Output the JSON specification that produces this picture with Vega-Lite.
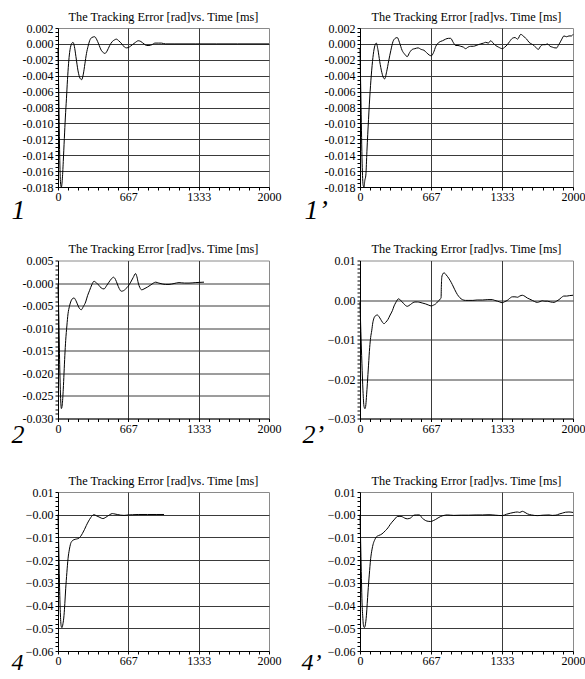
{
  "$schema": "https://vega.github.io/schema/vega-lite/v6.json",
  "padding": {"left": 10, "top": 10, "right": 0, "bottom": 0},
  "background": "white",
  "columns": 2,
  "spacing": {"row": 73.5, "column": 91},
  "bounds": "flush",
  "config": {
    "view": {"stroke": "#8a8a8a", "strokeWidth": 1},
    "font": "Liberation Serif",
    "axis": {"labelFont": "Liberation Serif", "labelFontSize": 12, "labelColor": "#000", "tickColor": "#000", "tickSize": 3, "tickWidth": 1, "domainColor": "#000", "gridColor": "#3a3a3a", "gridWidth": 1, "labelPadding": 2, "titleFont": "Liberation Serif", "titleFontStyle": "italic", "titleFontWeight": "normal", "titleColor": "#000", "labelFlush": false, "labelOverlap": false, "labelBound": false},
    "title": {"font": "Liberation Serif", "fontSize": 12.3, "fontWeight": "normal", "color": "#000", "baseline": "alphabetic", "offset": -1, "anchor": "middle", "frame": "group"},
    "line": {"color": "#000", "strokeWidth": 1, "interpolate": "monotone", "clip": true}
  },
  "datasets": {
    "p1": [{"t":0,"e":-0.0006},{"t":8,"e":-0.007},{"t":16,"e":-0.014},{"t":24,"e":-0.0175},{"t":32,"e":-0.018},{"t":40,"e":-0.0172},{"t":50,"e":-0.0148},{"t":60,"e":-0.0119},{"t":70,"e":-0.0092},{"t":80,"e":-0.0069},{"t":90,"e":-0.0045},{"t":100,"e":-0.0025},{"t":110,"e":-0.0011},{"t":125,"e":-0.0001},{"t":142,"e":0.0002},{"t":155,"e":-0.0003},{"t":170,"e":-0.0016},{"t":190,"e":-0.0034},{"t":208,"e":-0.0043},{"t":224,"e":-0.0045},{"t":240,"e":-0.0038},{"t":255,"e":-0.0025},{"t":270,"e":-0.0012},{"t":285,"e":-0.0003},{"t":300,"e":0.0004},{"t":320,"e":0.0008},{"t":348,"e":0.0009},{"t":365,"e":0.0006},{"t":385,"e":0.0},{"t":410,"e":-0.0008},{"t":430,"e":-0.0011},{"t":445,"e":-0.0012},{"t":465,"e":-0.0009},{"t":490,"e":-0.0002},{"t":515,"e":0.0003},{"t":535,"e":0.0005},{"t":553,"e":0.0006},{"t":575,"e":0.0004},{"t":605,"e":0.0},{"t":630,"e":-0.0004},{"t":651,"e":-0.0005},{"t":675,"e":-0.0004},{"t":705,"e":-0.0001},{"t":735,"e":0.0002},{"t":761,"e":0.0004},{"t":785,"e":0.0003},{"t":815,"e":0.0},{"t":840,"e":-0.0002},{"t":862,"e":-0.0002},{"t":890,"e":-0.0001},{"t":920,"e":0.0001},{"t":950,"e":0.0001},{"t":980,"e":0.0001},{"t":1020,"e":0.0},{"t":1100,"e":0.0},{"t":1300,"e":0.0},{"t":1500,"e":0.0},{"t":1700,"e":0.0},{"t":2000,"e":0.0}],
    "p1b": [{"t":0,"e":-0.0005},{"t":10,"e":-0.008},{"t":20,"e":-0.015},{"t":30,"e":-0.0178},{"t":38,"e":-0.018},{"t":45,"e":-0.0172},{"t":55,"e":-0.0165},{"t":65,"e":-0.0135},{"t":80,"e":-0.0095},{"t":95,"e":-0.006},{"t":110,"e":-0.0033},{"t":125,"e":-0.0013},{"t":140,"e":-0.0002},{"t":153,"e":0.0001},{"t":168,"e":-0.0007},{"t":185,"e":-0.0022},{"t":205,"e":-0.0036},{"t":222,"e":-0.0043},{"t":232,"e":-0.0044},{"t":250,"e":-0.0035},{"t":270,"e":-0.0021},{"t":290,"e":-0.0008},{"t":310,"e":0.0003},{"t":330,"e":0.0007},{"t":350,"e":0.0008},{"t":370,"e":0.0002},{"t":395,"e":-0.0008},{"t":420,"e":-0.0013},{"t":444,"e":-0.0016},{"t":465,"e":-0.0011},{"t":490,"e":-0.0007},{"t":515,"e":-0.0006},{"t":545,"e":-0.0005},{"t":575,"e":-0.0007},{"t":600,"e":-0.0008},{"t":625,"e":-0.0011},{"t":650,"e":-0.0014},{"t":670,"e":-0.0015},{"t":690,"e":-0.0011},{"t":712,"e":-0.0003},{"t":742,"e":0.0002},{"t":775,"e":0.0004},{"t":804,"e":0.0006},{"t":830,"e":0.0007},{"t":851,"e":0.0007},{"t":875,"e":0.0002},{"t":898,"e":-0.0002},{"t":920,"e":-0.0002},{"t":945,"e":-0.0003},{"t":970,"e":-0.0004},{"t":992,"e":-0.0006},{"t":1015,"e":-0.0004},{"t":1039,"e":-0.0003},{"t":1065,"e":-0.0003},{"t":1090,"e":-0.0002},{"t":1110,"e":-0.0001},{"t":1133,"e":0.0},{"t":1160,"e":0.0001},{"t":1180,"e":0.0002},{"t":1205,"e":0.0001},{"t":1227,"e":0.0004},{"t":1250,"e":0.0001},{"t":1274,"e":-0.0002},{"t":1300,"e":-0.0004},{"t":1336,"e":-0.0006},{"t":1360,"e":-0.0004},{"t":1383,"e":-0.0001},{"t":1405,"e":0.0003},{"t":1430,"e":0.0007},{"t":1455,"e":0.0008},{"t":1480,"e":0.0006},{"t":1509,"e":0.0012},{"t":1540,"e":0.0009},{"t":1565,"e":0.0006},{"t":1587,"e":0.0002},{"t":1610,"e":0.0},{"t":1634,"e":-0.0002},{"t":1655,"e":-0.0005},{"t":1674,"e":-0.0007},{"t":1695,"e":-0.0003},{"t":1720,"e":-0.0001},{"t":1740,"e":-0.0001},{"t":1759,"e":0.0},{"t":1785,"e":-0.0003},{"t":1806,"e":-0.0004},{"t":1830,"e":-0.0005},{"t":1847,"e":-0.0005},{"t":1865,"e":-0.0001},{"t":1875,"e":0.0001},{"t":1895,"e":0.0006},{"t":1915,"e":0.001},{"t":1940,"e":0.0009},{"t":1962,"e":0.001},{"t":1985,"e":0.001},{"t":2000,"e":0.0012}],
    "p2": [{"t":0,"e":-0.0003},{"t":8,"e":-0.008},{"t":16,"e":-0.018},{"t":24,"e":-0.025},{"t":32,"e":-0.0278},{"t":40,"e":-0.027},{"t":50,"e":-0.0235},{"t":57,"e":-0.02},{"t":65,"e":-0.016},{"t":73,"e":-0.0127},{"t":84,"e":-0.0095},{"t":95,"e":-0.0068},{"t":108,"e":-0.0052},{"t":120,"e":-0.0042},{"t":135,"e":-0.0035},{"t":152,"e":-0.0033},{"t":168,"e":-0.0038},{"t":183,"e":-0.0046},{"t":200,"e":-0.0055},{"t":221,"e":-0.0059},{"t":240,"e":-0.0052},{"t":262,"e":-0.0042},{"t":280,"e":-0.0028},{"t":300,"e":-0.0016},{"t":320,"e":-0.0004},{"t":341,"e":0.0004},{"t":365,"e":0.0},{"t":389,"e":-0.0005},{"t":410,"e":-0.0011},{"t":436,"e":-0.0013},{"t":460,"e":-0.0006},{"t":483,"e":0.0002},{"t":505,"e":0.0009},{"t":525,"e":0.0013},{"t":545,"e":0.0008},{"t":562,"e":-0.0002},{"t":580,"e":-0.0012},{"t":600,"e":-0.0018},{"t":620,"e":-0.0017},{"t":641,"e":-0.0013},{"t":665,"e":-0.0007},{"t":689,"e":0.0002},{"t":712,"e":0.0012},{"t":736,"e":0.0021},{"t":748,"e":0.0014},{"t":761,"e":0.0},{"t":776,"e":-0.001},{"t":793,"e":-0.0015},{"t":815,"e":-0.0013},{"t":847,"e":-0.0009},{"t":880,"e":-0.0004},{"t":926,"e":0.0002},{"t":955,"e":0.0},{"t":989,"e":-0.0002},{"t":1020,"e":-0.0003},{"t":1052,"e":-0.0003},{"t":1100,"e":-0.0001},{"t":1147,"e":0.0001},{"t":1200,"e":0.0},{"t":1242,"e":0.0},{"t":1300,"e":0.0001},{"t":1384,"e":0.0002}],
    "p2b": [{"t":0,"e":-0.0005},{"t":8,"e":-0.008},{"t":18,"e":-0.016},{"t":28,"e":-0.023},{"t":38,"e":-0.027},{"t":47,"e":-0.0275},{"t":55,"e":-0.0265},{"t":62,"e":-0.024},{"t":69,"e":-0.0212},{"t":80,"e":-0.0165},{"t":91,"e":-0.012},{"t":100,"e":-0.0095},{"t":110,"e":-0.0078},{"t":120,"e":-0.0058},{"t":131,"e":-0.0046},{"t":145,"e":-0.004},{"t":163,"e":-0.0038},{"t":178,"e":-0.0042},{"t":194,"e":-0.0049},{"t":210,"e":-0.0056},{"t":225,"e":-0.006},{"t":243,"e":-0.0056},{"t":263,"e":-0.0049},{"t":283,"e":-0.0038},{"t":304,"e":-0.0027},{"t":320,"e":-0.0015},{"t":335,"e":-0.0007},{"t":350,"e":0.0},{"t":360,"e":0.0003},{"t":378,"e":0.0},{"t":397,"e":-0.0005},{"t":420,"e":-0.0012},{"t":444,"e":-0.0016},{"t":460,"e":-0.0014},{"t":476,"e":-0.0011},{"t":496,"e":-0.0007},{"t":516,"e":-0.0005},{"t":540,"e":-0.0005},{"t":563,"e":-0.0006},{"t":590,"e":-0.0008},{"t":617,"e":-0.001},{"t":645,"e":-0.0013},{"t":670,"e":-0.0015},{"t":690,"e":-0.0013},{"t":710,"e":-0.001},{"t":728,"e":-0.0005},{"t":742,"e":-0.0001},{"t":755,"e":0.0003},{"t":761,"e":0.0005},{"t":764,"e":0.0035},{"t":768,"e":0.0058},{"t":778,"e":0.0066},{"t":789,"e":0.0069},{"t":805,"e":0.0065},{"t":820,"e":0.006},{"t":845,"e":0.005},{"t":867,"e":0.0039},{"t":890,"e":0.0026},{"t":914,"e":0.0014},{"t":937,"e":0.0006},{"t":961,"e":0.0001},{"t":990,"e":-0.0001},{"t":1023,"e":-0.0001},{"t":1060,"e":-0.0001},{"t":1100,"e":0.0},{"t":1149,"e":0.0},{"t":1200,"e":0.0001},{"t":1243,"e":0.0001},{"t":1265,"e":-0.0001},{"t":1290,"e":-0.0003},{"t":1313,"e":-0.0005},{"t":1336,"e":-0.0007},{"t":1360,"e":-0.0004},{"t":1383,"e":-0.0001},{"t":1405,"e":0.0004},{"t":1430,"e":0.0008},{"t":1455,"e":0.0008},{"t":1480,"e":0.0007},{"t":1500,"e":0.001},{"t":1524,"e":0.0012},{"t":1550,"e":0.0009},{"t":1571,"e":0.0005},{"t":1595,"e":0.0002},{"t":1618,"e":-0.0001},{"t":1640,"e":-0.0004},{"t":1665,"e":-0.0006},{"t":1690,"e":-0.0004},{"t":1712,"e":-0.0002},{"t":1735,"e":-0.0003},{"t":1759,"e":-0.0003},{"t":1790,"e":-0.0005},{"t":1822,"e":-0.0006},{"t":1845,"e":-0.0003},{"t":1869,"e":0.0001},{"t":1890,"e":0.0006},{"t":1915,"e":0.001},{"t":1940,"e":0.001},{"t":1965,"e":0.0011},{"t":2000,"e":0.0012}],
    "p4": [{"t":0,"e":0.0},{"t":6,"e":-0.012},{"t":14,"e":-0.03},{"t":22,"e":-0.043},{"t":30,"e":-0.049},{"t":38,"e":-0.0497},{"t":47,"e":-0.048},{"t":57,"e":-0.0443},{"t":65,"e":-0.039},{"t":73,"e":-0.0326},{"t":84,"e":-0.0255},{"t":95,"e":-0.0194},{"t":107,"e":-0.0155},{"t":120,"e":-0.0127},{"t":135,"e":-0.0115},{"t":152,"e":-0.011},{"t":175,"e":-0.0107},{"t":199,"e":-0.0103},{"t":215,"e":-0.0095},{"t":231,"e":-0.0083},{"t":250,"e":-0.0066},{"t":269,"e":-0.0047},{"t":290,"e":-0.0028},{"t":310,"e":-0.0013},{"t":325,"e":-0.0004},{"t":341,"e":0.0},{"t":365,"e":-0.0005},{"t":389,"e":-0.001},{"t":410,"e":-0.0015},{"t":427,"e":-0.0017},{"t":447,"e":-0.0013},{"t":468,"e":-0.0007},{"t":490,"e":0.0},{"t":515,"e":0.0005},{"t":540,"e":0.0003},{"t":562,"e":0.0001},{"t":595,"e":-0.0002},{"t":626,"e":-0.0003},{"t":665,"e":-0.0001},{"t":705,"e":0.0},{"t":760,"e":0.0001},{"t":850,"e":0.0001},{"t":930,"e":0.0001},{"t":1005,"e":0.0001}],
    "p4b": [{"t":0,"e":0.0},{"t":6,"e":-0.012},{"t":12,"e":-0.025},{"t":18,"e":-0.037},{"t":26,"e":-0.045},{"t":34,"e":-0.0492},{"t":41,"e":-0.0497},{"t":50,"e":-0.0485},{"t":60,"e":-0.0445},{"t":68,"e":-0.039},{"t":75,"e":-0.034},{"t":87,"e":-0.0265},{"t":100,"e":-0.0194},{"t":112,"e":-0.0155},{"t":125,"e":-0.0127},{"t":139,"e":-0.011},{"t":153,"e":-0.0098},{"t":173,"e":-0.0092},{"t":194,"e":-0.0088},{"t":218,"e":-0.008},{"t":241,"e":-0.0069},{"t":262,"e":-0.0058},{"t":282,"e":-0.0044},{"t":300,"e":-0.0033},{"t":319,"e":-0.0023},{"t":335,"e":-0.0014},{"t":350,"e":-0.0008},{"t":375,"e":-0.0007},{"t":397,"e":-0.0009},{"t":420,"e":-0.0015},{"t":444,"e":-0.0018},{"t":460,"e":-0.0017},{"t":476,"e":-0.0014},{"t":492,"e":-0.0007},{"t":507,"e":-0.0002},{"t":530,"e":-0.0001},{"t":554,"e":-0.0001},{"t":568,"e":-0.0004},{"t":579,"e":-0.0012},{"t":597,"e":-0.002},{"t":617,"e":-0.0026},{"t":640,"e":-0.0029},{"t":664,"e":-0.003},{"t":688,"e":-0.0026},{"t":710,"e":-0.0021},{"t":733,"e":-0.0014},{"t":757,"e":-0.0008},{"t":790,"e":-0.0003},{"t":820,"e":-0.0001},{"t":880,"e":-0.0003},{"t":950,"e":-0.0002},{"t":1020,"e":-0.0002},{"t":1090,"e":-0.0001},{"t":1150,"e":-0.0001},{"t":1211,"e":0.0},{"t":1270,"e":-0.0002},{"t":1336,"e":-0.0004},{"t":1375,"e":0.0002},{"t":1415,"e":0.0007},{"t":1445,"e":0.001},{"t":1477,"e":0.0012},{"t":1500,"e":0.001},{"t":1524,"e":0.0015},{"t":1550,"e":0.001},{"t":1571,"e":0.0004},{"t":1610,"e":-0.0001},{"t":1665,"e":-0.0004},{"t":1720,"e":-0.0002},{"t":1775,"e":-0.0001},{"t":1805,"e":-0.0003},{"t":1840,"e":-0.0002},{"t":1870,"e":0.0003},{"t":1900,"e":0.0007},{"t":1930,"e":0.0011},{"t":1962,"e":0.0012},{"t":2000,"e":0.001}]
  },
  "concat": [
    {
      "width": 211, "height": 159,
      "title": "The Tracking Error [rad]vs. Time [ms]",
      "data": {"name": "p1"},
      "mark": {"type": "line"},
      "encoding": {
        "x": {"field": "t", "type": "quantitative", "scale": {"domain": [0, 2000], "nice": false, "zero": false},
          "axis": {"values": [0,95.238,190.476,285.714,380.952,476.19,571.429,666.667,761.905,857.143,952.381,1047.619,1142.857,1238.095,1333.333,1428.571,1523.81,1619.048,1714.286,1809.524,1904.762,2000],
            "labelExpr": "abs(datum.value/666.6667 - round(datum.value/666.6667)) < 0.001 ? format(datum.value, '.0f') : ''",
            "grid": true, "gridOpacity": {"condition": {"test": "datum.value > 1 && datum.value < 1999 && abs(datum.value/666.6667 - round(datum.value/666.6667)) < 0.001", "value": 1}, "value": 0},
            "labelPadding": 1.5,
            "title": "1", "titleX": -47, "titleY": 31, "titleAlign": "left", "titleBaseline": "alphabetic", "titleAngle": 0, "titleFontSize": 28}},
        "y": {"field": "e", "type": "quantitative", "scale": {"domain": [-0.018, 0.002], "nice": false, "zero": false},
          "axis": {"values": [-0.018,-0.0175,-0.017,-0.0165,-0.016,-0.0155,-0.015,-0.0145,-0.014,-0.0135,-0.013,-0.0125,-0.012,-0.0115,-0.011,-0.0105,-0.01,-0.0095,-0.009,-0.0085,-0.008,-0.0075,-0.007,-0.0065,-0.006,-0.0055,-0.005,-0.0045,-0.004,-0.0035,-0.003,-0.0025,-0.002,-0.0015,-0.001,-0.0005,0,0.0005,0.001,0.0015,0.002],
            "labelExpr": "abs(datum.value/0.002 - round(datum.value/0.002)) < 0.001 ? replace(format(datum.value, '.3f'), '−', '-') : ''",
            "grid": true, "gridOpacity": {"condition": {"test": "datum.value > -0.0179 && datum.value < 0.0019 && abs(datum.value/0.002 - round(datum.value/0.002)) < 0.001", "value": 1}, "value": 0},
            "title": null}}
      }
    },
    {
      "width": 213, "height": 159,
      "title": "The Tracking Error [rad]vs. Time [ms]",
      "data": {"name": "p1b"},
      "mark": {"type": "line"},
      "encoding": {
        "x": {"field": "t", "type": "quantitative", "scale": {"domain": [0, 2000], "nice": false, "zero": false},
          "axis": {"values": [0,95.238,190.476,285.714,380.952,476.19,571.429,666.667,761.905,857.143,952.381,1047.619,1142.857,1238.095,1333.333,1428.571,1523.81,1619.048,1714.286,1809.524,1904.762,2000],
            "labelExpr": "abs(datum.value/666.6667 - round(datum.value/666.6667)) < 0.001 ? format(datum.value, '.0f') : ''",
            "grid": true, "gridOpacity": {"condition": {"test": "datum.value > 1 && datum.value < 1999 && abs(datum.value/666.6667 - round(datum.value/666.6667)) < 0.001", "value": 1}, "value": 0},
            "labelPadding": 1.5,
            "title": "1’", "titleX": -56, "titleY": 31, "titleAlign": "left", "titleBaseline": "alphabetic", "titleAngle": 0, "titleFontSize": 28}},
        "y": {"field": "e", "type": "quantitative", "scale": {"domain": [-0.018, 0.002], "nice": false, "zero": false},
          "axis": {"values": [-0.018,-0.0175,-0.017,-0.0165,-0.016,-0.0155,-0.015,-0.0145,-0.014,-0.0135,-0.013,-0.0125,-0.012,-0.0115,-0.011,-0.0105,-0.01,-0.0095,-0.009,-0.0085,-0.008,-0.0075,-0.007,-0.0065,-0.006,-0.0055,-0.005,-0.0045,-0.004,-0.0035,-0.003,-0.0025,-0.002,-0.0015,-0.001,-0.0005,0,0.0005,0.001,0.0015,0.002],
            "labelExpr": "abs(datum.value/0.002 - round(datum.value/0.002)) < 0.001 ? replace(format(datum.value, '.3f'), '−', '-') : ''",
            "grid": true, "gridOpacity": {"condition": {"test": "datum.value > -0.0179 && datum.value < 0.0019 && abs(datum.value/0.002 - round(datum.value/0.002)) < 0.001", "value": 1}, "value": 0},
            "title": null}}
      }
    },
    {
      "width": 211, "height": 158,
      "title": "The Tracking Error [rad]vs. Time [ms]",
      "data": {"name": "p2"},
      "mark": {"type": "line"},
      "encoding": {
        "x": {"field": "t", "type": "quantitative", "scale": {"domain": [0, 2000], "nice": false, "zero": false},
          "axis": {"values": [0,95.238,190.476,285.714,380.952,476.19,571.429,666.667,761.905,857.143,952.381,1047.619,1142.857,1238.095,1333.333,1428.571,1523.81,1619.048,1714.286,1809.524,1904.762,2000],
            "labelExpr": "abs(datum.value/666.6667 - round(datum.value/666.6667)) < 0.001 ? format(datum.value, '.0f') : ''",
            "grid": true, "gridOpacity": {"condition": {"test": "datum.value > 1 && datum.value < 1999 && abs(datum.value/666.6667 - round(datum.value/666.6667)) < 0.001", "value": 1}, "value": 0},
            "labelPadding": 1.5,
            "title": "2", "titleX": -47, "titleY": 24, "titleAlign": "left", "titleBaseline": "alphabetic", "titleAngle": 0, "titleFontSize": 26}},
        "y": {"field": "e", "type": "quantitative", "scale": {"domain": [-0.03, 0.005], "nice": false, "zero": false},
          "axis": {"values": [-0.03,-0.029,-0.028,-0.027,-0.026,-0.025,-0.024,-0.023,-0.022,-0.021,-0.02,-0.019,-0.018,-0.017,-0.016,-0.015,-0.014,-0.013,-0.012,-0.011,-0.01,-0.009,-0.008,-0.007,-0.006,-0.005,-0.004,-0.003,-0.002,-0.001,0,0.001,0.002,0.003,0.004,0.005],
            "labelExpr": "abs(datum.value/0.005 - round(datum.value/0.005)) < 0.001 ? (abs(datum.value) < 0.000001 ? '-0.000' : replace(format(datum.value, '.3f'), '−', '-')) : ''",
            "grid": true, "gridOpacity": {"condition": {"test": "datum.value > -0.0299 && datum.value < 0.0049 && abs(datum.value/0.005 - round(datum.value/0.005)) < 0.001", "value": 1}, "value": 0},
            "title": null}}
      }
    },
    {
      "width": 213, "height": 158,
      "title": "The Tracking Error [rad]vs. Time [ms]",
      "data": {"name": "p2b"},
      "mark": {"type": "line"},
      "encoding": {
        "x": {"field": "t", "type": "quantitative", "scale": {"domain": [0, 2000], "nice": false, "zero": false},
          "axis": {"values": [0,95.238,190.476,285.714,380.952,476.19,571.429,666.667,761.905,857.143,952.381,1047.619,1142.857,1238.095,1333.333,1428.571,1523.81,1619.048,1714.286,1809.524,1904.762,2000],
            "labelExpr": "abs(datum.value/666.6667 - round(datum.value/666.6667)) < 0.001 ? format(datum.value, '.0f') : ''",
            "grid": true, "gridOpacity": {"condition": {"test": "datum.value > 1 && datum.value < 1999 && abs(datum.value/666.6667 - round(datum.value/666.6667)) < 0.001", "value": 1}, "value": 0},
            "labelPadding": 1.5,
            "title": "2’", "titleX": -58, "titleY": 24, "titleAlign": "left", "titleBaseline": "alphabetic", "titleAngle": 0, "titleFontSize": 26}},
        "y": {"field": "e", "type": "quantitative", "scale": {"domain": [-0.03, 0.01], "nice": false, "zero": false},
          "axis": {"values": [-0.03,-0.029,-0.028,-0.027,-0.026,-0.025,-0.024,-0.023,-0.022,-0.021,-0.02,-0.019,-0.018,-0.017,-0.016,-0.015,-0.014,-0.013,-0.012,-0.011,-0.01,-0.009,-0.008,-0.007,-0.006,-0.005,-0.004,-0.003,-0.002,-0.001,0,0.001,0.002,0.003,0.004,0.005,0.006,0.007,0.008,0.009,0.01],
            "labelExpr": "abs(datum.value/0.01 - round(datum.value/0.01)) < 0.001 ? format(datum.value, '.2f') : ''",
            "grid": true, "gridOpacity": {"condition": {"test": "datum.value > -0.0299 && datum.value < 0.0099 && abs(datum.value/0.01 - round(datum.value/0.01)) < 0.001", "value": 1}, "value": 0},
            "title": null}}
      }
    },
    {
      "width": 211, "height": 159,
      "title": "The Tracking Error [rad]vs. Time [ms]",
      "data": {"name": "p4"},
      "mark": {"type": "line"},
      "encoding": {
        "x": {"field": "t", "type": "quantitative", "scale": {"domain": [0, 2000], "nice": false, "zero": false},
          "axis": {"values": [0,95.238,190.476,285.714,380.952,476.19,571.429,666.667,761.905,857.143,952.381,1047.619,1142.857,1238.095,1333.333,1428.571,1523.81,1619.048,1714.286,1809.524,1904.762,2000],
            "labelExpr": "abs(datum.value/666.6667 - round(datum.value/666.6667)) < 0.001 ? format(datum.value, '.0f') : ''",
            "grid": true, "gridOpacity": {"condition": {"test": "datum.value > 1 && datum.value < 1999 && abs(datum.value/666.6667 - round(datum.value/666.6667)) < 0.001", "value": 1}, "value": 0},
            "labelPadding": 1.5,
            "title": "4", "titleX": -47, "titleY": 18, "titleAlign": "left", "titleBaseline": "alphabetic", "titleAngle": 0, "titleFontSize": 24}},
        "y": {"field": "e", "type": "quantitative", "scale": {"domain": [-0.06, 0.01], "nice": false, "zero": false},
          "axis": {"values": [-0.06,-0.058,-0.056,-0.054,-0.052,-0.05,-0.048,-0.046,-0.044,-0.042,-0.04,-0.038,-0.036,-0.034,-0.032,-0.03,-0.028,-0.026,-0.024,-0.022,-0.02,-0.018,-0.016,-0.014,-0.012,-0.01,-0.008,-0.006,-0.004,-0.002,0,0.002,0.004,0.006,0.008,0.01],
            "labelExpr": "abs(datum.value/0.01 - round(datum.value/0.01)) < 0.001 ? (abs(datum.value) < 0.000001 ? '−0.00' : format(datum.value, '.2f')) : ''",
            "grid": true, "gridOpacity": {"condition": {"test": "datum.value > -0.0599 && datum.value < 0.0099 && abs(datum.value/0.01 - round(datum.value/0.01)) < 0.001", "value": 1}, "value": 0},
            "title": null}}
      }
    },
    {
      "width": 213, "height": 159,
      "title": "The Tracking Error [rad]vs. Time [ms]",
      "data": {"name": "p4b"},
      "mark": {"type": "line"},
      "encoding": {
        "x": {"field": "t", "type": "quantitative", "scale": {"domain": [0, 2000], "nice": false, "zero": false},
          "axis": {"values": [0,95.238,190.476,285.714,380.952,476.19,571.429,666.667,761.905,857.143,952.381,1047.619,1142.857,1238.095,1333.333,1428.571,1523.81,1619.048,1714.286,1809.524,1904.762,2000],
            "labelExpr": "abs(datum.value/666.6667 - round(datum.value/666.6667)) < 0.001 ? format(datum.value, '.0f') : ''",
            "grid": true, "gridOpacity": {"condition": {"test": "datum.value > 1 && datum.value < 1999 && abs(datum.value/666.6667 - round(datum.value/666.6667)) < 0.001", "value": 1}, "value": 0},
            "labelPadding": 1.5,
            "title": "4’", "titleX": -59, "titleY": 18, "titleAlign": "left", "titleBaseline": "alphabetic", "titleAngle": 0, "titleFontSize": 24}},
        "y": {"field": "e", "type": "quantitative", "scale": {"domain": [-0.06, 0.01], "nice": false, "zero": false},
          "axis": {"values": [-0.06,-0.058,-0.056,-0.054,-0.052,-0.05,-0.048,-0.046,-0.044,-0.042,-0.04,-0.038,-0.036,-0.034,-0.032,-0.03,-0.028,-0.026,-0.024,-0.022,-0.02,-0.018,-0.016,-0.014,-0.012,-0.01,-0.008,-0.006,-0.004,-0.002,0,0.002,0.004,0.006,0.008,0.01],
            "labelExpr": "abs(datum.value/0.01 - round(datum.value/0.01)) < 0.001 ? (abs(datum.value) < 0.000001 ? '−0.00' : format(datum.value, '.2f')) : ''",
            "grid": true, "gridOpacity": {"condition": {"test": "datum.value > -0.0599 && datum.value < 0.0099 && abs(datum.value/0.01 - round(datum.value/0.01)) < 0.001", "value": 1}, "value": 0},
            "title": null}}
      }
    }
  ]
}
